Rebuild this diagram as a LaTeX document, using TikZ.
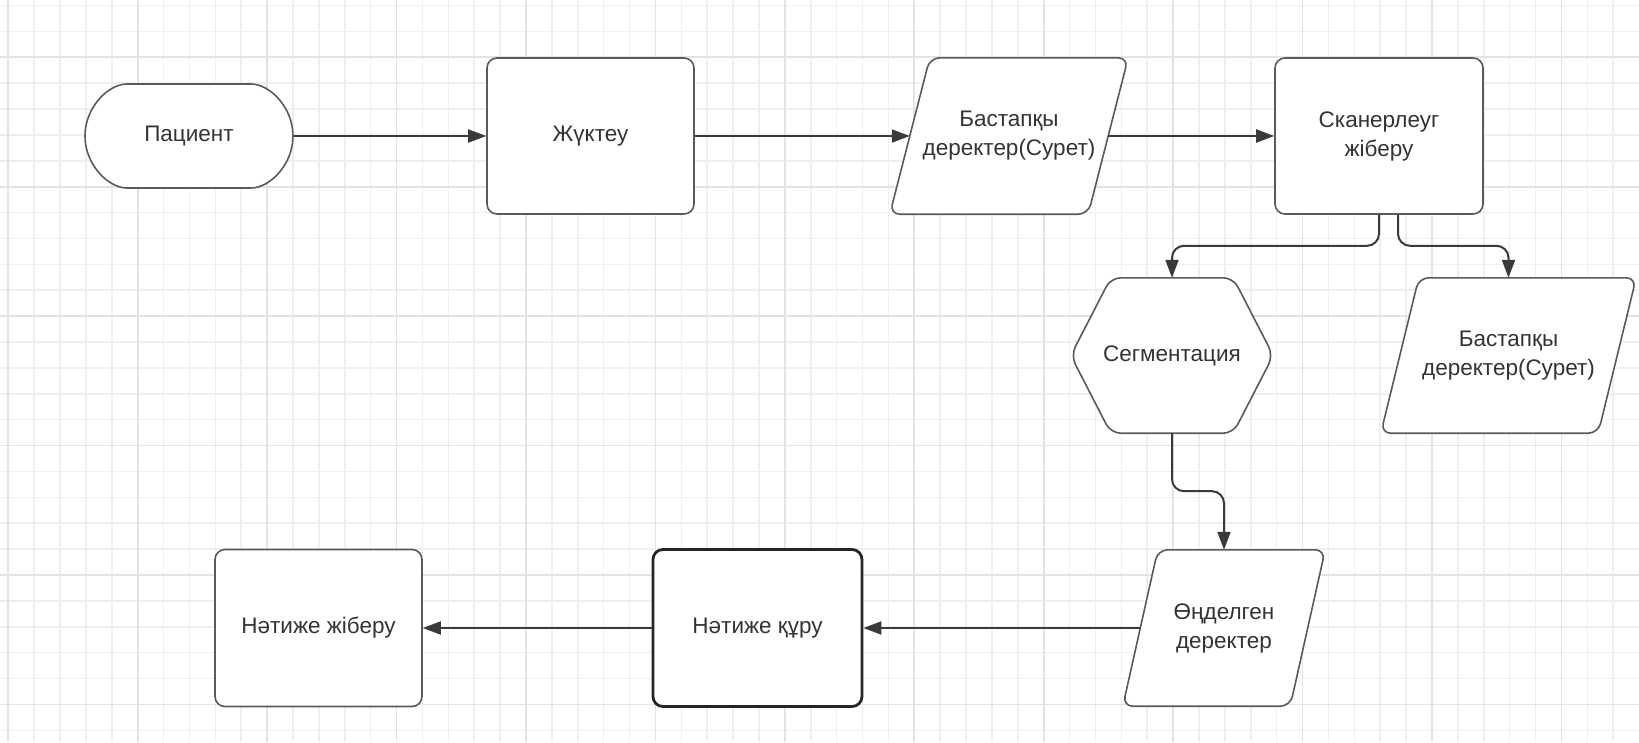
\documentclass[tikz,border=0pt]{standalone}
\usepackage{fontspec}
\setmainfont{Liberation Sans}
\usetikzlibrary{arrows.meta,calc,shapes.misc}
\definecolor{gridminor}{HTML}{EFEFEF}
\definecolor{gridmajor}{HTML}{E3E3E3}
\definecolor{edgegray}{HTML}{5A5A5A}
\definecolor{linegray}{HTML}{3A3A3A}
\definecolor{textgray}{HTML}{333333}
\pgfdeclarelayer{gridlayer}
\pgfdeclarelayer{shapelayer}
\pgfsetlayers{gridlayer,shapelayer,main}
\begin{document}
\begin{tikzpicture}[x=1pt,y=-1pt,
  txt/.style={font=\fontsize{22.5}{29}\selectfont, text=textgray, align=center, inner sep=0pt},
  box/.style={txt, draw=edgegray, fill=white, line width=1.6pt, rounded corners=10pt},
  ghost/.style={txt},
  outline/.style={draw=edgegray, fill=white, line width=1.6pt, rounded corners=10pt},
  conn/.style={draw=linegray, line width=2pt, rounded corners=12pt, -{Triangle[length=18pt,width=13pt]}},
  minorline/.style={draw=gridminor, line width=1.6pt},
  majorline/.style={draw=gridmajor, line width=1.8pt}
]
\useasboundingbox (0,0) rectangle (1639,742);
\begin{pgfonlayer}{gridlayer}
  \fill[white] (0,0) rectangle (1639,742);
  \foreach \k in {0,...,62} {
    \pgfmathsetmacro\xx{8.27+25.886*\k}
    \draw[minorline] (\xx,0) -- (\xx,742);
  }
  \foreach \k in {0,...,28} {
    \pgfmathsetmacro\yy{5.5+25.886*\k}
    \draw[minorline] (0,\yy) -- (1639,\yy);
  }
  \foreach \k in {0,...,12} {
    \pgfmathsetmacro\xx{8.27+129.43*\k}
    \draw[majorline] (\xx,0) -- (\xx,742);
  }
  \foreach \k in {0,...,5} {
    \pgfmathsetmacro\yy{57.3+129.43*\k}
    \draw[majorline] (0,\yy) -- (1639,\yy);
  }
\end{pgfonlayer}

% top row
\node[box, rounded rectangle, minimum width=208pt, minimum height=104pt] (pac) at (189,136) {Пациент};
\node[box, minimum width=207pt, minimum height=156pt] (zh) at (590.5,136) {Жүктеу};
\node[ghost, minimum width=238pt, minimum height=156pt] (d1) at (1009,136) {Бастапқы\\деректер(Сурет)};
\node[box, minimum width=208pt, minimum height=156pt] (sk) at (1379,136) {Сканерлеуг\\жіберу};

% middle row
\node[ghost, minimum width=202pt, minimum height=155pt] (seg) at (1172,355.5) {Сегментация};
\node[ghost, minimum width=255pt, minimum height=155pt] (d2) at (1508.5,355.5) {Бастапқы\\деректер(Сурет)};

% bottom row
\node[ghost, minimum width=202pt, minimum height=156pt] (od) at (1224,628) {Өңделген\\деректер};
\node[box, draw=black!85, line width=2.8pt, minimum width=209pt, minimum height=157pt] (nq) at (757.5,628) {Нәтиже құру};
\node[box, minimum width=207pt, minimum height=157pt] (nz) at (318.5,628) {Нәтиже жіберу};

\begin{pgfonlayer}{shapelayer}
  \draw[outline] ($(d1.north west)+(40,0)$) -- (d1.north east) -- ($(d1.south east)+(-40,0)$) -- (d1.south west) -- cycle;
  \draw[outline] ($(seg.north west)+(40,0)$) -- ($(seg.north east)+(-40,0)$) -- (seg.east) -- ($(seg.south east)+(-40,0)$) -- ($(seg.south west)+(40,0)$) -- (seg.west) -- cycle;
  \draw[outline] ($(d2.north west)+(38,0)$) -- (d2.north east) -- ($(d2.south east)+(-38,0)$) -- (d2.south west) -- cycle;
  \draw[outline] ($(od.north west)+(35,0)$) -- (od.north east) -- ($(od.south east)+(-35,0)$) -- (od.south west) -- cycle;
\end{pgfonlayer}

% connectors
\draw[conn] (pac.east) -- (zh.west);
\draw[conn] (zh.east) -- ($(d1.west)+(20,0)$);
\draw[conn] ($(d1.east)+(-20,0)$) -- (sk.west);
\draw[conn] (sk.south) -- ++(0,31) -| (seg.north);
\draw[conn] ($(sk.south)+(19,0)$) -- ++(0,31) -| (d2.north);
\draw[conn] (seg.south) -- ++(0,58) -| (od.north);
\draw[conn] ($(od.west)+(17.5,0)$) -- (nq.east);
\draw[conn] (nq.west) -- (nz.east);
\end{tikzpicture}
\end{document}
